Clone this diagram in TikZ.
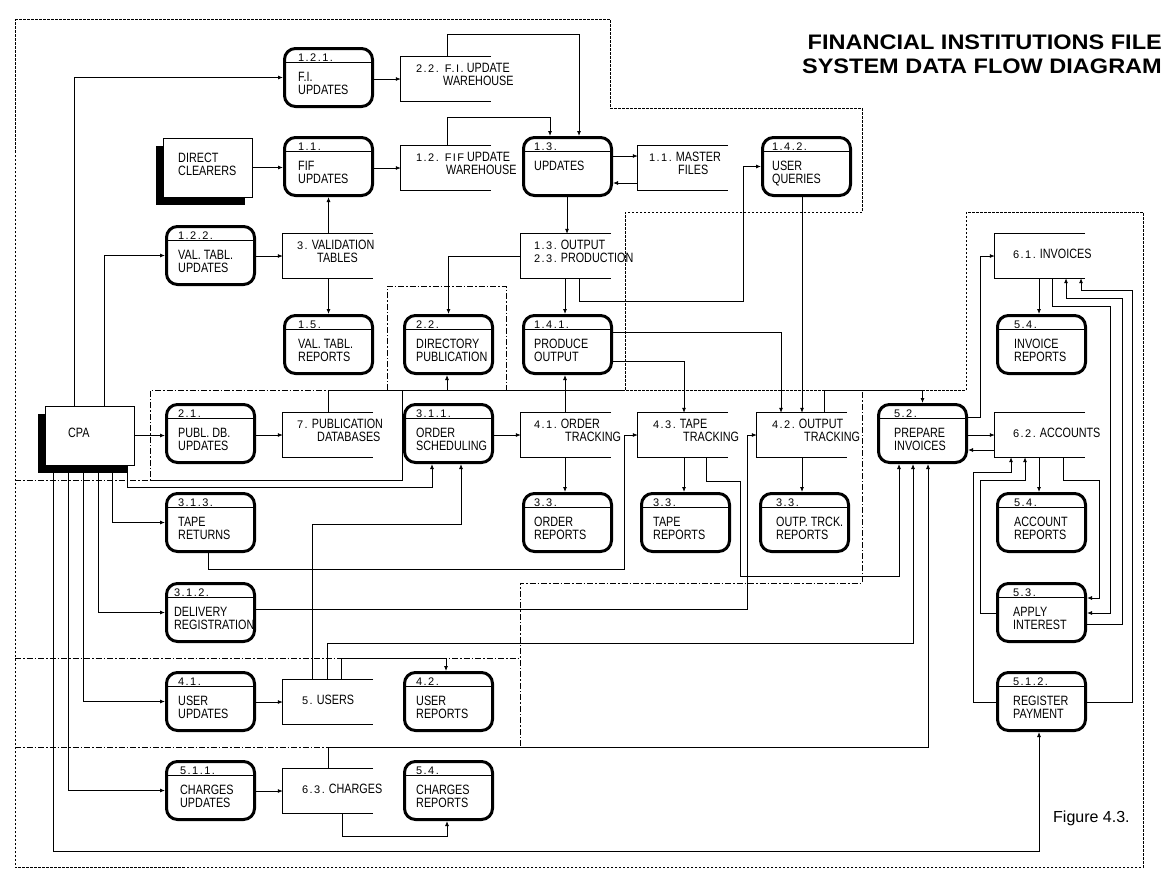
\documentclass[tikz,border=0pt]{standalone}
\usepackage{fontspec}
\setmainfont{Liberation Sans}
\newfontfamily\boxfont{Liberation Sans}[FakeStretch=0.8]
\newfontfamily\numfont{Liberation Sans}[LetterSpace=13]
\newfontfamily\titlefont{Liberation Sans}[FakeStretch=1.12]
\usetikzlibrary{arrows.meta, shadows}
\newcommand{\nr}[1]{{\numfont\fontsize{11}{11}\selectfont#1}}
% process: [text offset] name, left, top, number, line one, line two
\newcommand{\proc}[7][13]{%
  \node[proc] (#2) at (#3+45.5,#4+30.5) {};
  \draw[wire] (#3,#4+15) -- (#3+91,#4+15);
  \node[numtext] (#2-n) at (#3+#1,#4+14) {#5};
  \node[boxtext] (#2-a) at (#3+#1,#4+34) {#6};
  \node[boxtext] (#2-b) at (#3+#1,#4+47) {#7};}
% data store: name, left, top, offset one, line one, offset two, line two
\newcommand{\store}[7]{%
  \node[store] (#1) at (#2+45,#3+22) {};
  \draw[wire] (#1.north east) -- (#1.north west) -- (#1.south west) -- (#1.south east);
  \node[boxtext] (#1-a) at (#2+#4,#3+15.5) {#5};
  \node[boxtext] (#1-b) at (#2+#6,#3+28.5) {#7};}
\newcommand{\storeone}[5]{%
  \node[store] (#1) at (#2+45,#3+22) {};
  \draw[wire] (#1.north east) -- (#1.north west) -- (#1.south west) -- (#1.south east);
  \node[boxtext] (#1-a) at (#2+#4,#3+24.5) {#5};}
\begin{document}
\begin{tikzpicture}[x=1pt, y=-1pt,
    proc/.style={draw, fill=white, line width=3pt, rounded corners=11pt,
      minimum width=88pt, minimum height=58pt, inner sep=0pt},
    store/.style={minimum width=90pt, minimum height=44pt, inner sep=0pt},
    entity/.style={draw, fill=white, line width=0.8pt, minimum width=89pt,
      minimum height=59pt, inner sep=0pt,
      general shadow={fill=black, shadow xshift=-7pt, shadow yshift=-8pt}},
    boxtext/.style={anchor=base west, inner sep=0pt,
      font=\boxfont\fontsize{13.5}{13.5}\selectfont},
    numtext/.style={anchor=base west, inner sep=0pt,
      font=\numfont\fontsize{11}{11}\selectfont},
    titletext/.style={anchor=base east, inner sep=0pt,
      font=\titlefont\bfseries\fontsize{21}{21}\selectfont},
    wire/.style={line width=0.8pt},
    flow/.style={line width=0.8pt, -{Latex[length=5pt, width=4pt]}},
    region/.style={line width=0.8pt, dash pattern=on 6pt off 2pt on 1.5pt off 2pt},
    border/.style={line width=0.8pt, dash pattern=on 2.5pt off 1.5pt}]
  \useasboundingbox (0,0) rectangle (1175,881);

  % system boundary and sub-systems
  \draw[border] (15,19) -- (610,19) -- (610,108) -- (862,108) -- (862,212)
    -- (625,212) -- (625,390) -- (966,390) -- (966,212) -- (1143,212)
    -- (1143,867) -- (15,867) -- cycle;
  \draw[region] (15,480) -- (150,480) -- (150,390) -- (328,390);
  \draw[region] (387,390) -- (387,286) -- (506,286) -- (506,390);
  \draw[region] (15,658) -- (520,658);
  \draw[region] (15,747) -- (520,747) -- (520,583) -- (862,583) -- (862,390);
  \draw[wire] (150,480) -- (402,480) -- (402,390) -- (625,390);

  % title
  \node[titletext] (title-a) at (1162,49.5) {FINANCIAL INSTITUTIONS FILE};
  \node[titletext] (title-b) at (1162,73.5) {SYSTEM DATA FLOW DIAGRAM};
  \node[anchor=base west, inner sep=0pt, font=\fontsize{16}{16}\selectfont]
    (fig) at (1053,822) {Figure 4.3.};

  % external entities
  \node[entity] (dc) at (207.5,167.5) {};
  \node[boxtext] (dc-a) at (178,162.5) {DIRECT};
  \node[boxtext] (dc-b) at (178,175.5) {CLEARERS};
  \node[entity] (cpa) at (89.5,435.5) {};
  \node[boxtext] (cpa-a) at (68,437) {CPA};

  % processes
  \proc[15]{p121}{283}{47}{1.2.1.}{F.I.}{UPDATES}
  \proc[15]{p11}{283}{136}{1.1.}{FIF}{UPDATES}
  \proc{p122}{165}{225}{1.2.2.}{VAL. TABL.}{UPDATES}
  \proc[12]{p13}{522}{136}{1.3.}{UPDATES}{}
  \proc[11]{p142}{761}{136}{1.4.2.}{USER}{QUERIES}
  \proc[15]{p15}{283}{314}{1.5.}{VAL. TABL.}{REPORTS}
  \proc{p22}{403}{314}{2.2.}{DIRECTORY}{PUBLICATION}
  \proc[12]{p141}{522}{314}{1.4.1.}{PRODUCE}{OUTPUT}
  \proc[18]{p54i}{996}{314}{5.4.}{INVOICE}{REPORTS}
  \proc{p21}{165}{403}{2.1.}{PUBL. DB.}{UPDATES}
  \proc{p311}{403}{403}{3.1.1.}{ORDER}{SCHEDULING}
  \proc[17]{p52}{877}{403}{5.2.}{PREPARE}{INVOICES}
  \proc{p313}{165}{492}{3.1.3.}{TAPE}{RETURNS}
  \proc[12]{p33o}{522}{492}{3.3.}{ORDER}{REPORTS}
  \proc{p33t}{640}{492}{3.3.}{TAPE}{REPORTS}
  \proc[17]{p33p}{759}{492}{3.3.}{OUTP. TRCK.}{REPORTS}
  \proc[18]{p54a}{996}{492}{5.4.}{ACCOUNT}{REPORTS}
  \proc[9]{p312}{165}{582}{3.1.2.}{DELIVERY}{REGISTRATION}
  \proc[17]{p53}{996}{582}{5.3.}{APPLY}{INTEREST}
  \proc{p41}{165}{671}{4.1.}{USER}{UPDATES}
  \proc{p42}{403}{671}{4.2.}{USER}{REPORTS}
  \proc[17]{p512}{996}{671}{5.1.2.}{REGISTER}{PAYMENT}
  \proc[15]{p511}{165}{760}{5.1.1.}{CHARGES}{UPDATES}
  \proc{p54c}{403}{760}{5.4.}{CHARGES}{REPORTS}

  % data stores
  \store{s22}{401}{57}{15}{\nr{2.2. F.I.} UPDATE}{42}{WAREHOUSE}
  \store{s12}{401}{146}{15}{\nr{1.2. FIF} UPDATE}{45}{WAREHOUSE}
  \store{s11}{638}{146}{11}{\nr{1.1.} MASTER}{40}{FILES}
  \store{s3}{283}{234}{14}{\nr{3.} VALIDATION}{34}{TABLES}
  \store{s13}{521}{234}{13}{\nr{1.3.} OUTPUT}{13}{\nr{2.3.} PRODUCTION}
  \storeone{s61}{995}{234}{18}{\nr{6.1.} INVOICES}
  \store{s7}{283}{413}{14}{\nr{7.} PUBLICATION}{34}{DATABASES}
  \store{s41}{521}{413}{13}{\nr{4.1.} ORDER}{44}{TRACKING}
  \store{s43}{638}{413}{15}{\nr{4.3.} TAPE}{45}{TRACKING}
  \store{s42}{757}{413}{15}{\nr{4.2.} OUTPUT}{47}{TRACKING}
  \storeone{s62}{995}{413}{18}{\nr{6.2.} ACCOUNTS}
  \storeone{s5}{283}{680}{19}{\nr{5.} USERS}
  \storeone{s63}{283}{769}{19}{\nr{6.3.} CHARGES}

  % flows out of CPA
  \draw[flow] (74,0 |- cpa.north) |- (p121.west);
  \draw[flow] (104,0 |- cpa.north) |- (p122.west);
  \draw[flow] (cpa.east) -- (cpa.east -| p21.west);
  \draw[flow] (127,0 |- cpa.south) -- (127,487) -| (432,0 |- p311.south);
  \draw[flow] (112,0 |- cpa.south) |- (p313.west);
  \draw[flow] (98,0 |- cpa.south) |- (p312.west);
  \draw[flow] (83,0 |- cpa.south) |- (p41.west);
  \draw[flow] (68,0 |- cpa.south) |- (p511.west);
  \draw[flow] (53,0 |- cpa.south) -- (53,851) -| (1039,0 |- p512.south);

  % file updates
  \draw[flow] (dc.east) -- (dc.east -| p11.west);
  \draw[flow] (p121.east |- s22.west) -- (s22.west);
  \draw[flow] (p11.east |- s12.west) -- (s12.west);
  \draw[flow] (p122.east |- s3.west) -- (s3.west);
  \draw[flow] (s3.north -| p11.south) -- (p11.south);
  \draw[flow] (s3.south -| p15.north) -- (p15.north);
  \draw[flow] (447,0 |- s22.north) -- (447,34) -| (579,0 |- p13.north);
  \draw[flow] (447,0 |- s12.north) -- (447,117) -| (550,0 |- p13.north);
  \draw[flow] (p13.east |- 0,156) -- (s11.west |- 0,156);
  \draw[flow] (s11.west |- 0,183) -- (p13.east |- 0,183);
  \draw[flow] (567,0 |- p13.south) -- (567,0 |- s13.north);

  % output production
  \draw[flow] (s13.west) -| (p22.north);
  \draw[flow] (565,0 |- s13.south) -- (565,0 |- p141.north);
  \draw[flow] (579,0 |- s13.south) -- (579,301) -- (743,301) |- (p142.west);
  \draw[flow] (802,0 |- p142.south) -- (802,0 |- s42.north);
  \draw[flow] (p141.east |- 0,332) -| (781,0 |- s42.north);
  \draw[flow] (p141.east |- 0,361) -| (684,0 |- s43.north);
  \draw[flow] (p21.east |- s7.west) -- (s7.west);
  \draw[flow] (328,0 |- s7.north) -- (328,390) -| (447,0 |- p22.south);

  % order, tape and output tracking
  \draw[flow] (565,0 |- s41.north) -- (565,0 |- p141.south);
  \draw[flow] (p311.east |- 0,435) -- (s41.west |- 0,435);
  \draw[flow] (565,0 |- s41.south) -- (565,0 |- p33o.north);
  \draw[flow] (684,0 |- s43.south) -- (684,0 |- p33t.north);
  \draw[flow] (706,0 |- s43.south) -- (706,481) -- (740,481) -- (740,576)
    -| (899,0 |- p52.south);
  \draw[flow] (802,0 |- s42.south) -- (802,0 |- p33p.north);
  \draw[flow] (824,0 |- s42.north) -- (824,390) -| (p52.north);
  \draw[flow] (208,0 |- p313.south) -- (208,569) -- (624,569) |- (s43.west);
  \draw[flow] (p312.east |- 0,609) -- (747,609) |- (s42.west);

  % users and charges
  \draw[flow] (p41.east |- s5.west) -- (s5.west);
  \draw[flow] (p511.east |- s63.west) -- (s63.west);
  \draw[flow] (312,0 |- s5.north) -- (312,524) -| (461,0 |- p311.south);
  \draw[flow] (327,0 |- s5.north) -- (327,643) -| (913,0 |- p52.south);
  \draw[flow] (341,0 |- s5.north) -- (341,658) -| (446,0 |- p42.north);
  \draw[flow] (328,0 |- s63.north) -- (328,747) -| (928,0 |- p52.south);
  \draw[flow] (342,0 |- s63.south) -- (342,836) -| (447,0 |- p54c.south);

  % invoices and accounts
  \draw[flow] (p52.east |- 0,417) -- (980,417) |- (s61.west);
  \draw[flow] (p52.east |- 0,435) -- (s62.west |- 0,435);
  \draw[flow] (s62.west |- 0,450) -- (p52.east |- 0,450);
  \draw[flow] (1039,0 |- s61.south) -- (1039,0 |- p54i.north);
  \draw[flow] (1052,0 |- s61.south) -- (1052,306) -- (1110,306) |- (p53.east |- 0,613);
  \draw[flow] (p53.east |- 0,624) -- (1122,624) -- (1122,298) -| (1066,0 |- s61.south);
  \draw[flow] (p512.east |- 0,702) -- (1132,702) -- (1132,290) -| (1081,0 |- s61.south);
  \draw[flow] (1039,0 |- s62.south) -- (1039,0 |- p54a.north);
  \draw[flow] (1063,0 |- s62.south) -- (1063,480) -- (1099,480) |- (p53.east |- 0,598);
  \draw[flow] (p512.west |- 0,702) -- (973,702) -- (973,472) -| (1011,0 |- s62.south);
  \draw[flow] (p53.west |- 0,613) -- (980,613) -- (980,480) -| (1025,0 |- s62.south);
\end{tikzpicture}
\end{document}
